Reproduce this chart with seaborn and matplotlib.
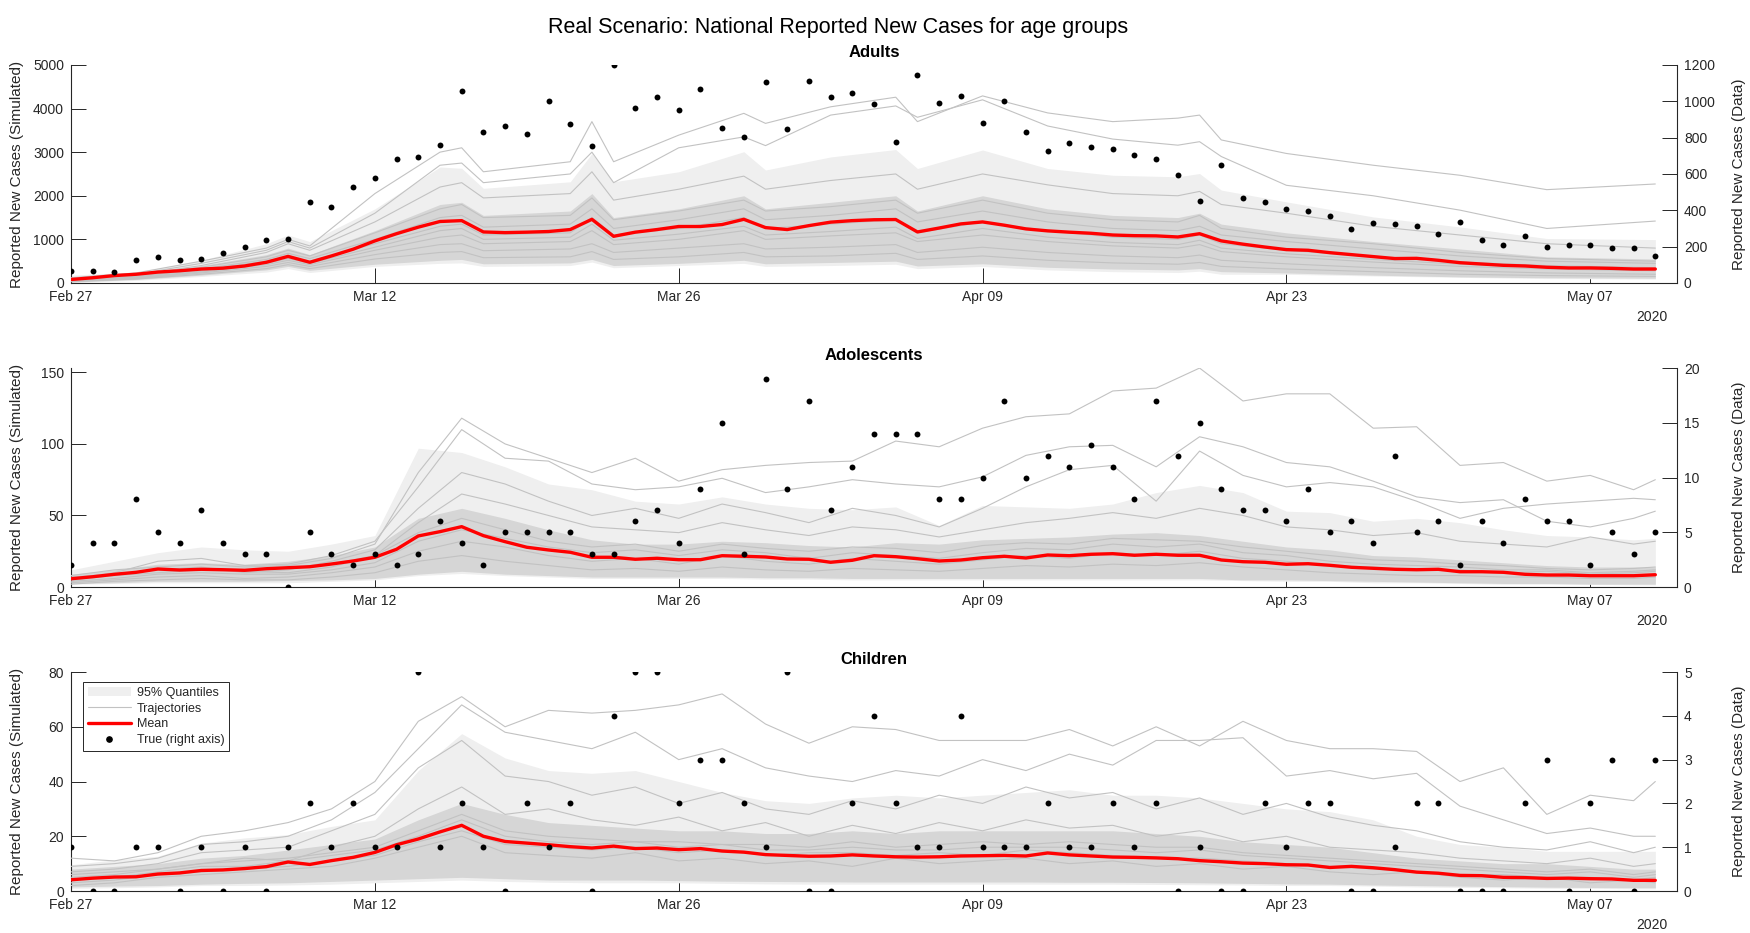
import numpy as np
import pandas as pd
import seaborn as sns
import matplotlib.pyplot as plt
import matplotlib.dates as mdates
from matplotlib.lines import Line2D
from matplotlib.patches import Patch

start = pd.Timestamp('2020-02-27')
days = np.arange(74)
tick_dates = pd.date_range(start, periods=6, freq='14D')

# ---------------- Adults ----------------
adults_mean = [80, 120, 170, 200, 250, 280, 320, 340, 390, 475,
               610, 475, 620, 775, 965, 1130, 1280, 1410, 1430, 1170,
               1155, 1165, 1180, 1225, 1460, 1070, 1165, 1225, 1295, 1295,
               1340, 1460, 1270, 1225, 1315, 1395, 1430, 1450, 1455, 1170,
               1260, 1355, 1400, 1325, 1240, 1195, 1165, 1140, 1100, 1085,
               1080, 1055, 1130, 965, 890, 825, 765, 750, 695, 650,
               605, 560, 565, 520, 465, 435, 405, 390, 360, 345,
               345, 335, 320, 320]
adults_true = [64, 68, 62, 129, 141, 127, 134, 165, 200, 239,
               243, 447, 419, 527, 579, 680, 693, 757, 1058, 829,
               866, 821, 1002, 873, 752, 1200, 965, 1024, 952, 1068,
               853, 803, 1106, 847, 1110, 1025, 1046, 987, 777, 1143,
               992, 1027, 880, 1003, 829, 726, 770, 746, 737, 706,
               685, 597, 450, 649, 470, 448, 406, 397, 369, 296,
               329, 323, 312, 272, 336, 237, 208, 261, 198, 211,
               209, 195, 193, 147]
adults_knots = [0, 3, 6, 9, 10, 11, 14, 17, 18, 19, 23, 24, 25, 28, 31,
                32, 35, 38, 39, 42, 45, 48, 51, 52, 53, 56, 60, 64, 68, 73]
adults_q_hi = [180, 250, 520, 900, 1100, 950, 1700, 2660, 2630, 2170, 2320, 2970, 2320, 2550, 3010,
               2590, 2890, 3060, 2625, 3050, 2625, 2470, 2435, 2510, 2130, 1860, 1515, 1285, 1020, 995]
adults_q_lo = [10, 60, 150, 250, 330, 240, 380, 450, 460, 380, 400, 480, 350, 400, 450,
               380, 400, 430, 330, 380, 300, 260, 240, 270, 200, 200, 160, 130, 100, 90]
adults_core_hi = [120, 200, 400, 650, 800, 650, 1200, 1800, 1850, 1550, 1650, 2050, 1500, 1700, 2000,
                  1700, 1850, 2000, 1650, 2000, 1700, 1550, 1500, 1600, 1350, 1150, 950, 780, 600, 550]
adults_core_lo = [20, 80, 180, 300, 380, 290, 430, 520, 540, 440, 460, 540, 400, 450, 520,
                  440, 470, 500, 390, 440, 360, 320, 300, 330, 260, 230, 180, 140, 120, 110]
adults_traj = [
    [120, 230, 500, 800, 1000, 850, 2050, 3000, 3100, 2550, 2780, 3700, 2780, 3390, 3890,
     3660, 4040, 4260, 3700, 4290, 3900, 3700, 3780, 3850, 3280, 2970, 2700, 2470, 2140, 2270],
    [110, 200, 450, 750, 950, 800, 1600, 2700, 2750, 2300, 2500, 3000, 2300, 3100, 3350,
     3150, 3850, 4060, 3800, 4200, 3600, 3300, 3160, 3240, 2900, 2240, 2000, 1670, 1250, 1420],
    [100, 180, 400, 700, 900, 750, 1400, 2200, 2300, 1950, 2050, 2550, 1900, 2150, 2450,
     2150, 2350, 2500, 2150, 2500, 2250, 2050, 2000, 2100, 1800, 1600, 1300, 1100, 900, 800],
    [90, 170, 360, 600, 750, 620, 1150, 1700, 1800, 1500, 1550, 1950, 1450, 1650, 1900,
     1650, 1750, 1900, 1600, 1900, 1600, 1450, 1400, 1550, 1250, 1050, 900, 700, 560, 500],
    [70, 150, 320, 540, 680, 560, 1000, 1500, 1550, 1280, 1350, 1700, 1250, 1450, 1700,
     1450, 1550, 1700, 1400, 1650, 1400, 1250, 1200, 1300, 1100, 950, 780, 620, 500, 450],
    [55, 120, 270, 450, 560, 450, 820, 1200, 1250, 1000, 1050, 1350, 980, 1120, 1300,
     1100, 1180, 1280, 1020, 1250, 1050, 930, 880, 980, 800, 670, 540, 430, 350, 310],
    [60, 140, 300, 500, 600, 500, 900, 1300, 1350, 1100, 1150, 1500, 1100, 1250, 1500,
     1250, 1350, 1450, 1150, 1400, 1200, 1050, 1000, 1100, 900, 750, 600, 480, 400, 350],
    [45, 110, 250, 420, 520, 420, 750, 1050, 1100, 900, 950, 1200, 880, 1000, 1200,
     1000, 1080, 1150, 950, 1100, 950, 850, 800, 880, 720, 600, 480, 380, 320, 280],
    [40, 100, 230, 380, 470, 380, 650, 880, 900, 740, 780, 900, 700, 800, 900,
     780, 820, 880, 700, 820, 700, 620, 580, 640, 520, 440, 350, 280, 230, 200],
    [30, 90, 200, 330, 420, 330, 550, 700, 720, 580, 600, 720, 540, 600, 700,
     600, 620, 680, 540, 620, 520, 460, 430, 470, 380, 320, 260, 200, 170, 150],
]

# ---------------- Adolescents ----------------
adol_mean = [5.8, 7.2, 8.9, 10.3, 12.6, 11.9, 12.4, 12.1, 11.7, 12.8,
             13.5, 14.2, 16.1, 18.2, 20.8, 26.4, 35.7, 38.7, 42.2, 35.9,
             31.7, 27.8, 25.9, 24.3, 20.8, 20.8, 19.4, 20.1, 19.1, 19.1,
             21.9, 21.5, 21.0, 19.6, 19.4, 17.3, 18.7, 21.9, 21.2, 19.8,
             18.2, 18.9, 20.5, 21.5, 20.3, 22.4, 21.9, 22.9, 23.3, 22.2,
             22.9, 22.2, 22.2, 18.9, 17.7, 17.3, 15.9, 16.3, 15.2, 13.8,
             13.1, 12.4, 12.1, 12.4, 10.7, 10.7, 10.3, 8.9, 8.4, 8.4,
             7.9, 7.9, 7.9, 8.6]
adol_true = [2, 4, 4, 8, 5, 4, 7, 4, 3, 3,
             0, 5, 3, 2, 3, 2, 3, 6, 4, 2,
             5, 5, 5, 5, 3, 3, 6, 7, 4, 9,
             15, 3, 19, 9, 17, 7, 11, 14, 14, 14,
             8, 8, 10, 17, 10, 12, 11, 13, 11, 8,
             17, 12, 15, 9, 7, 7, 6, 9, 5, 6,
             4, 12, 5, 6, 2, 6, 4, 8, 6, 6,
             2, 5, 3, 5]
even_knots = list(range(0, 73, 2)) + [73]
adol_q_hi = [12, 18, 24, 28, 26, 25, 30, 36, 97, 94, 84, 72, 68, 60, 58, 63, 58, 55, 54,
             56, 43, 57, 56, 55, 58, 66, 71, 66, 53, 52, 46, 48, 45, 40, 36, 35, 33, 34]
adol_q_lo = [2, 2.5, 3, 3, 3, 3, 4, 5, 8, 9.5, 8, 7, 6, 6, 6, 6, 5.5, 5.5, 5,
             5, 5, 5, 5, 5, 5, 5, 5, 4.5, 4, 4, 3, 3, 2.5, 2, 2, 2, 1.5, 1.5]
adol_core_hi = [9, 12, 16, 17, 16, 18, 22, 28, 48, 55, 48, 40, 33, 30, 30, 32, 31, 29, 28,
                31, 30, 33, 34, 35, 37, 38, 36, 32, 28, 26, 22, 21, 19, 17, 15, 14, 14, 14]
adol_core_lo = [2.5, 3, 4, 4, 4, 4.5, 5, 6, 9, 11, 9, 8, 7, 7, 7, 7, 6.5, 6.5, 6,
                6, 6, 6, 6, 6, 6, 6, 6, 5, 5, 4.5, 4, 3.5, 3, 2.5, 2.5, 2, 2, 2]
adol_traj = [
    [8, 12, 14, 16, 14, 15, 20, 30, 80, 118, 100, 90, 80, 90, 74, 82, 85, 87, 88,
     102, 98, 111, 119, 121, 137, 139, 153, 130, 135, 135, 111, 112, 85, 87, 74, 78, 68, 75],
    [6, 10, 18, 20, 15, 16, 22, 32, 70, 110, 90, 88, 72, 68, 70, 76, 66, 70, 75,
     72, 70, 77, 92, 98, 99, 84, 105, 98, 87, 84, 74, 63, 59, 61, 46, 42, 48, 53],
    [7, 9, 12, 14, 10, 12, 18, 26, 55, 80, 72, 60, 50, 55, 48, 58, 52, 45, 55,
     50, 42, 55, 70, 82, 85, 60, 95, 78, 70, 73, 70, 60, 48, 55, 58, 60, 62, 61],
    [5, 8, 10, 12, 11, 10, 14, 22, 45, 65, 58, 50, 42, 40, 38, 45, 40, 36, 42,
     40, 35, 40, 45, 48, 52, 48, 55, 50, 42, 40, 36, 38, 32, 30, 28, 35, 30, 32],
    [6, 9, 12, 13, 12, 13, 16, 22, 38, 48, 40, 32, 28, 30, 25, 30, 27, 25, 28,
     27, 24, 29, 31, 30, 34, 33, 32, 28, 25, 22, 19, 18, 16, 15, 13, 12, 13, 14],
    [4, 6, 9, 10, 9, 9, 12, 17, 32, 40, 34, 28, 24, 26, 22, 26, 24, 20, 24,
     22, 20, 24, 27, 26, 30, 28, 30, 24, 22, 18, 16, 15, 14, 12, 12, 10, 11, 12],
    [3, 5, 7, 8, 6, 7, 10, 14, 25, 32, 28, 22, 18, 20, 16, 22, 18, 16, 20,
     18, 16, 19, 22, 20, 24, 22, 25, 20, 18, 15, 14, 12, 12, 10, 11, 9, 10, 11],
    [2, 4, 5, 6, 5, 5, 7, 10, 18, 22, 18, 15, 12, 13, 11, 14, 12, 11, 13,
     12, 11, 13, 15, 14, 16, 15, 17, 14, 12, 10, 9, 8, 8, 7, 7, 6, 6, 7],
]

# ---------------- Children ----------------
child_mean = [4.1, 4.7, 5.1, 5.2, 6.2, 6.6, 7.5, 7.7, 8.2, 8.9,
              10.6, 9.7, 11.1, 12.3, 14.1, 16.9, 19.0, 21.6, 24.0, 20.0,
              18.1, 17.5, 16.9, 16.2, 15.7, 16.4, 15.5, 15.7, 15.1, 15.5,
              14.6, 14.2, 13.3, 13.0, 12.7, 12.8, 13.2, 12.8, 12.5, 12.4,
              12.5, 12.8, 12.9, 13.0, 12.8, 13.9, 13.2, 12.8, 12.4, 12.3,
              12.1, 11.8, 11.1, 10.7, 10.2, 10.0, 9.6, 9.5, 8.6, 9.0,
              8.5, 7.8, 6.9, 6.5, 5.7, 5.6, 5.0, 4.9, 4.6, 4.7,
              4.5, 4.4, 3.9, 3.9]
child_true = [1, 0, 0, 1, 1, 0, 1, 0, 1, 0,
              1, 2, 1, 2, 1, 1, 5, 1, 2, 1,
              0, 2, 1, 2, 0, 4, 5, 5, 2, 3,
              3, 2, 1, 5, 0, 0, 2, 4, 2, 1,
              1, 4, 1, 1, 1, 2, 1, 1, 2, 1,
              2, 0, 1, 0, 0, 2, 1, 2, 2, 0,
              0, 1, 2, 2, 0, 0, 0, 2, 3, 0,
              2, 3, 0, 3]
child_q_hi = [9.6, 11.4, 12.7, 17.5, 19.4, 20.6, 23.6, 26, 44, 57.5, 48.6, 44, 43, 44, 40, 36, 33, 32, 34,
              35, 34, 35, 36, 37, 35, 35, 34, 32, 30, 29, 26, 20, 17, 16, 14.5, 14.5, 14.5, 14.5]
child_q_lo = [1, 1.2, 1.5, 2, 2, 2.2, 2.5, 3, 3.5, 4, 3.5, 3.2, 3, 3, 3, 2.8, 2.6, 2.5, 2.5,
              2.5, 2.5, 2.5, 2.5, 2.5, 2.5, 2.4, 2.3, 2.2, 2, 2, 1.8, 1.5, 1.3, 1.2, 1, 1, 0.8, 0.8]
child_core_hi = [8, 9, 10, 12, 13, 15, 17, 19, 26, 32, 28, 25, 24, 23, 22, 22, 21, 21, 22,
                 21, 22, 22, 22, 22, 22, 21, 20, 18, 17, 16, 14, 12, 11, 10, 10, 9, 8, 8]
child_core_lo = [1.5, 1.8, 2, 2.5, 2.8, 3, 3.5, 4, 4.5, 5, 4.5, 4, 4, 4, 3.8, 3.6, 3.5, 3.4, 3.3,
                 3.3, 3.3, 3.3, 3.3, 3.2, 3.2, 3.1, 3, 2.8, 2.6, 2.5, 2.2, 2, 1.8, 1.6, 1.4, 1.3, 1.2, 1.2]
child_traj = [
    [12, 11, 14, 20, 22, 25, 30, 40, 62, 71, 60, 66, 65, 66, 68, 72, 61, 54, 60,
     59, 55, 55, 55, 59, 53, 60, 53, 62, 55, 52, 52, 51, 40, 45, 28, 35, 33, 40],
    [9, 10, 12, 17, 18, 20, 26, 36, 52, 68, 58, 55, 52, 58, 48, 52, 45, 42, 40,
     44, 42, 48, 44, 50, 46, 55, 55, 56, 42, 44, 41, 43, 31, 26, 21, 23, 20, 20],
    [7, 8, 10, 14, 15, 16, 22, 28, 45, 55, 42, 40, 35, 38, 32, 36, 30, 28, 33,
     30, 35, 32, 38, 34, 36, 30, 34, 28, 32, 27, 24, 22, 18, 16, 15, 18, 14, 16],
    [5, 6, 8, 10, 12, 11, 16, 20, 30, 38, 28, 30, 26, 24, 27, 22, 25, 20, 24,
     21, 25, 22, 26, 23, 24, 20, 22, 18, 20, 16, 15, 14, 12, 11, 10, 12, 9, 10],
    [6, 7, 8, 10, 11, 12, 14, 16, 22, 28, 22, 20, 19, 18, 18, 17, 17, 16, 18,
     16, 17, 18, 17, 18, 17, 16, 16, 14, 13, 12, 11, 10, 9, 8, 7, 8, 6, 7],
    [4, 5, 7, 9, 9, 11, 13, 15, 20, 26, 20, 18, 17, 18, 16, 17, 15, 15, 16,
     15, 15, 16, 16, 16, 15, 14, 15, 13, 12, 11, 10, 9, 8, 7, 6, 7, 5, 6],
    [3, 4, 6, 7, 8, 9, 11, 13, 18, 22, 17, 16, 15, 16, 14, 15, 13, 14, 14,
     13, 14, 13, 15, 14, 13, 12, 12, 11, 10, 9, 8, 7, 6, 6, 5, 5, 4, 5],
    [2, 3, 5, 6, 7, 8, 9, 12, 16, 20, 14, 13, 12, 14, 11, 12, 10, 11, 9,
     12, 10, 11, 12, 10, 11, 9, 10, 8, 9, 7, 6, 7, 5, 4, 5, 3, 4, 3],
]

panels = [
    dict(title='Adults', mean=adults_mean, true=adults_true, knots=adults_knots,
         q_lo=adults_q_lo, q_hi=adults_q_hi, core_lo=adults_core_lo, core_hi=adults_core_hi,
         traj=adults_traj, ylim=(0, 5000), yticks=range(0, 5001, 1000),
         ylim2=(0, 1200), yticks2=range(0, 1201, 200)),
    dict(title='Adolescents', mean=adol_mean, true=adol_true, knots=even_knots,
         q_lo=adol_q_lo, q_hi=adol_q_hi, core_lo=adol_core_lo, core_hi=adol_core_hi,
         traj=adol_traj, ylim=(0, 153), yticks=range(0, 151, 50),
         ylim2=(0, 20), yticks2=range(0, 21, 5)),
    dict(title='Children', mean=child_mean, true=child_true, knots=even_knots,
         q_lo=child_q_lo, q_hi=child_q_hi, core_lo=child_core_lo, core_hi=child_core_hi,
         traj=child_traj, ylim=(0, 80), yticks=range(0, 81, 20),
         ylim2=(0, 5), yticks2=range(0, 6)),
]

sns.set_style('white')
plt.rcParams['font.family'] = ['Liberation Sans', 'DejaVu Sans']

BAND = '#efefef'
CORE = '#d6d6d6'
TRAJ = '#c2c2c2'
INK = '#262626'

fig = plt.figure(figsize=(17.5, 9.33), dpi=100)
boxes = [[0.0406, 0.6967, 0.9177, 0.2337],
         [0.0406, 0.3708, 0.9177, 0.2347],
         [0.0406, 0.0450, 0.9177, 0.2347]]

dates = start + pd.to_timedelta(days, unit='D')

for box, p in zip(boxes, panels):
    ax = fig.add_axes(box)
    kd = start + pd.to_timedelta(p['knots'], unit='D')

    ax.fill_between(kd, p['q_lo'], p['q_hi'], color=BAND, lw=0, zorder=1)
    ax.fill_between(kd, p['core_lo'], p['core_hi'], color=CORE, lw=0, zorder=2)

    n = len(p['traj'])
    long = pd.DataFrame({'date': np.tile(kd, n),
                         'cases': np.concatenate(p['traj']),
                         'run': np.repeat(np.arange(n), len(kd))})
    sns.lineplot(data=long, x='date', y='cases', units='run', estimator=None,
                 color=TRAJ, lw=0.8, ax=ax, zorder=3, legend=False)
    sns.lineplot(x=dates, y=p['mean'], color='red', lw=2.4, ax=ax, zorder=5)

    ax.set_xlim(start, start + pd.Timedelta(days=74))
    ax.set_ylim(*p['ylim'])
    ax.set_yticks(list(p['yticks']))
    ax.set_xticks(tick_dates)
    ax.xaxis.set_major_formatter(mdates.DateFormatter('%b %d'))
    ax.set_xlabel('')
    ax.set_ylabel('Reported New Cases (Simulated)', fontsize=11, color=INK)
    ax.yaxis.set_label_coords(-0.029, 0.5)
    ax.set_title(p['title'], fontsize=12, fontweight='bold', pad=6, color='black')
    ax.tick_params(axis='both', direction='in', length=11, width=0.7, colors=INK,
                   labelsize=10, pad=5, bottom=True, left=True)
    for s in ['top', 'right']:
        ax.spines[s].set_visible(False)
    for s in ['left', 'bottom']:
        ax.spines[s].set_color(INK)
        ax.spines[s].set_linewidth(0.8)
    ax.text(0.994, -0.155, '2020', transform=ax.transAxes, ha='right', va='center',
            fontsize=10, color=INK)

    ax2 = ax.twinx()
    sns.scatterplot(x=dates, y=p['true'], color='black', s=18, linewidth=0, ax=ax2, zorder=6)
    ax2.set_ylim(*p['ylim2'])
    ax2.set_yticks(list(p['yticks2']))
    ax2.set_ylabel('Reported New Cases (Data)', fontsize=11, color=INK)
    ax2.yaxis.set_label_coords(1.034, 0.5)
    ax2.tick_params(axis='y', direction='in', length=11, width=0.7, colors=INK,
                    labelsize=10, pad=5, right=True)
    for s in ['top', 'left', 'bottom']:
        ax2.spines[s].set_visible(False)
    ax2.spines['right'].set_color(INK)
    ax2.spines['right'].set_linewidth(0.8)
    last_ax2 = ax2

handles = [Patch(facecolor=BAND, edgecolor='none', label='95% Quantiles'),
           Line2D([], [], color=TRAJ, lw=0.8, label='Trajectories'),
           Line2D([], [], color='red', lw=2.4, label='Mean'),
           Line2D([], [], color='black', marker='o', ls='none', ms=3.8, label='True (right axis)')]
leg = last_ax2.legend(handles=handles, loc='upper left', bbox_to_anchor=(0.0075, 0.955),
                      fontsize=9, frameon=True, fancybox=False, framealpha=1,
                      edgecolor=INK, handlelength=3.4, labelspacing=0.3,
                      borderpad=0.4, handletextpad=0.5, borderaxespad=0)
leg.get_frame().set_linewidth(0.7)

fig.suptitle('Real Scenario: National Reported New Cases for age groups',
             x=0.479, y=0.982, fontsize=15.5, color='black')

fig.savefig('out.png', dpi=100)
